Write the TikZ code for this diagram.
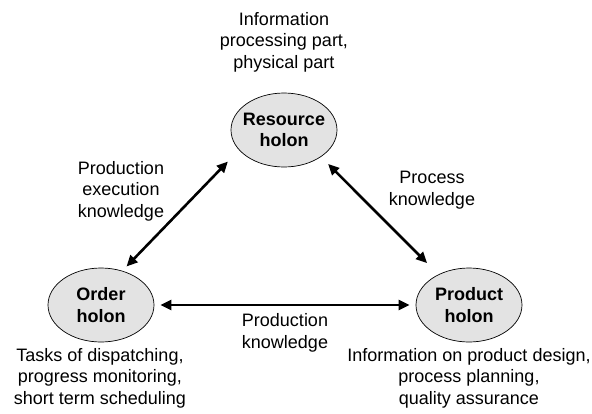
\documentclass[tikz,border=0pt]{standalone}
\usepackage{fontspec}
\setmainfont{Liberation Sans}
\usepackage{tikz}
\usetikzlibrary{arrows.meta,shapes.geometric}
\definecolor{holonGri}{HTML}{E3E3E3}

\begin{document}
\begin{tikzpicture}[x=1pt,y=-1pt,
  holon/.style={ellipse,draw=black,line width=0.7pt,fill=holonGri,minimum width=106pt,minimum height=74pt,inner xsep=-5pt,inner ysep=0pt,align=center,font=\fontsize{18}{21.5}\selectfont\bfseries},
  etiket/.style={align=center,font=\fontsize{18}{21.5}\selectfont},
  ok/.style={line width=2.6pt,{Triangle[length=11pt,width=10pt]}-{Triangle[length=11pt,width=10pt]},shorten <=6pt,shorten >=6pt}]
\useasboundingbox (0,0) rectangle (592,413);
% holon dugumleri
\node[holon] (kaynak) at (284,130) {Resource\\holon};
\node[holon] (siparis) at (101,305) {Order\\holon};
\node[holon] (urun) at (469,305) {Product\\holon};
% iki yonlu oklar
\draw[ok,shorten >=16pt] (siparis.58) -- (kaynak.204);
\draw[ok,shorten <=10pt,shorten >=16pt] (kaynak.324) -- (urun.135);
\draw[ok] (siparis) -- (urun);
% etiketler
\node[etiket] (bilgi) at (284,42) {Information\\processing part,\\physical part};
\node[etiket] (uretimYurutme) at (121,191) {Production\\execution\\knowledge};
\node[etiket] (surec) at (432,190) {Process\\knowledge};
\node[etiket] (uretim) at (285,333) {Production\\knowledge};
\node[etiket] (gorevler) at (100,378) {Tasks of dispatching,\\progress monitoring,\\short term scheduling};
\node[etiket] (urunBilgi) at (469,378) {Information on product design,\\process planning,\\quality assurance};
\end{tikzpicture}
\end{document}
